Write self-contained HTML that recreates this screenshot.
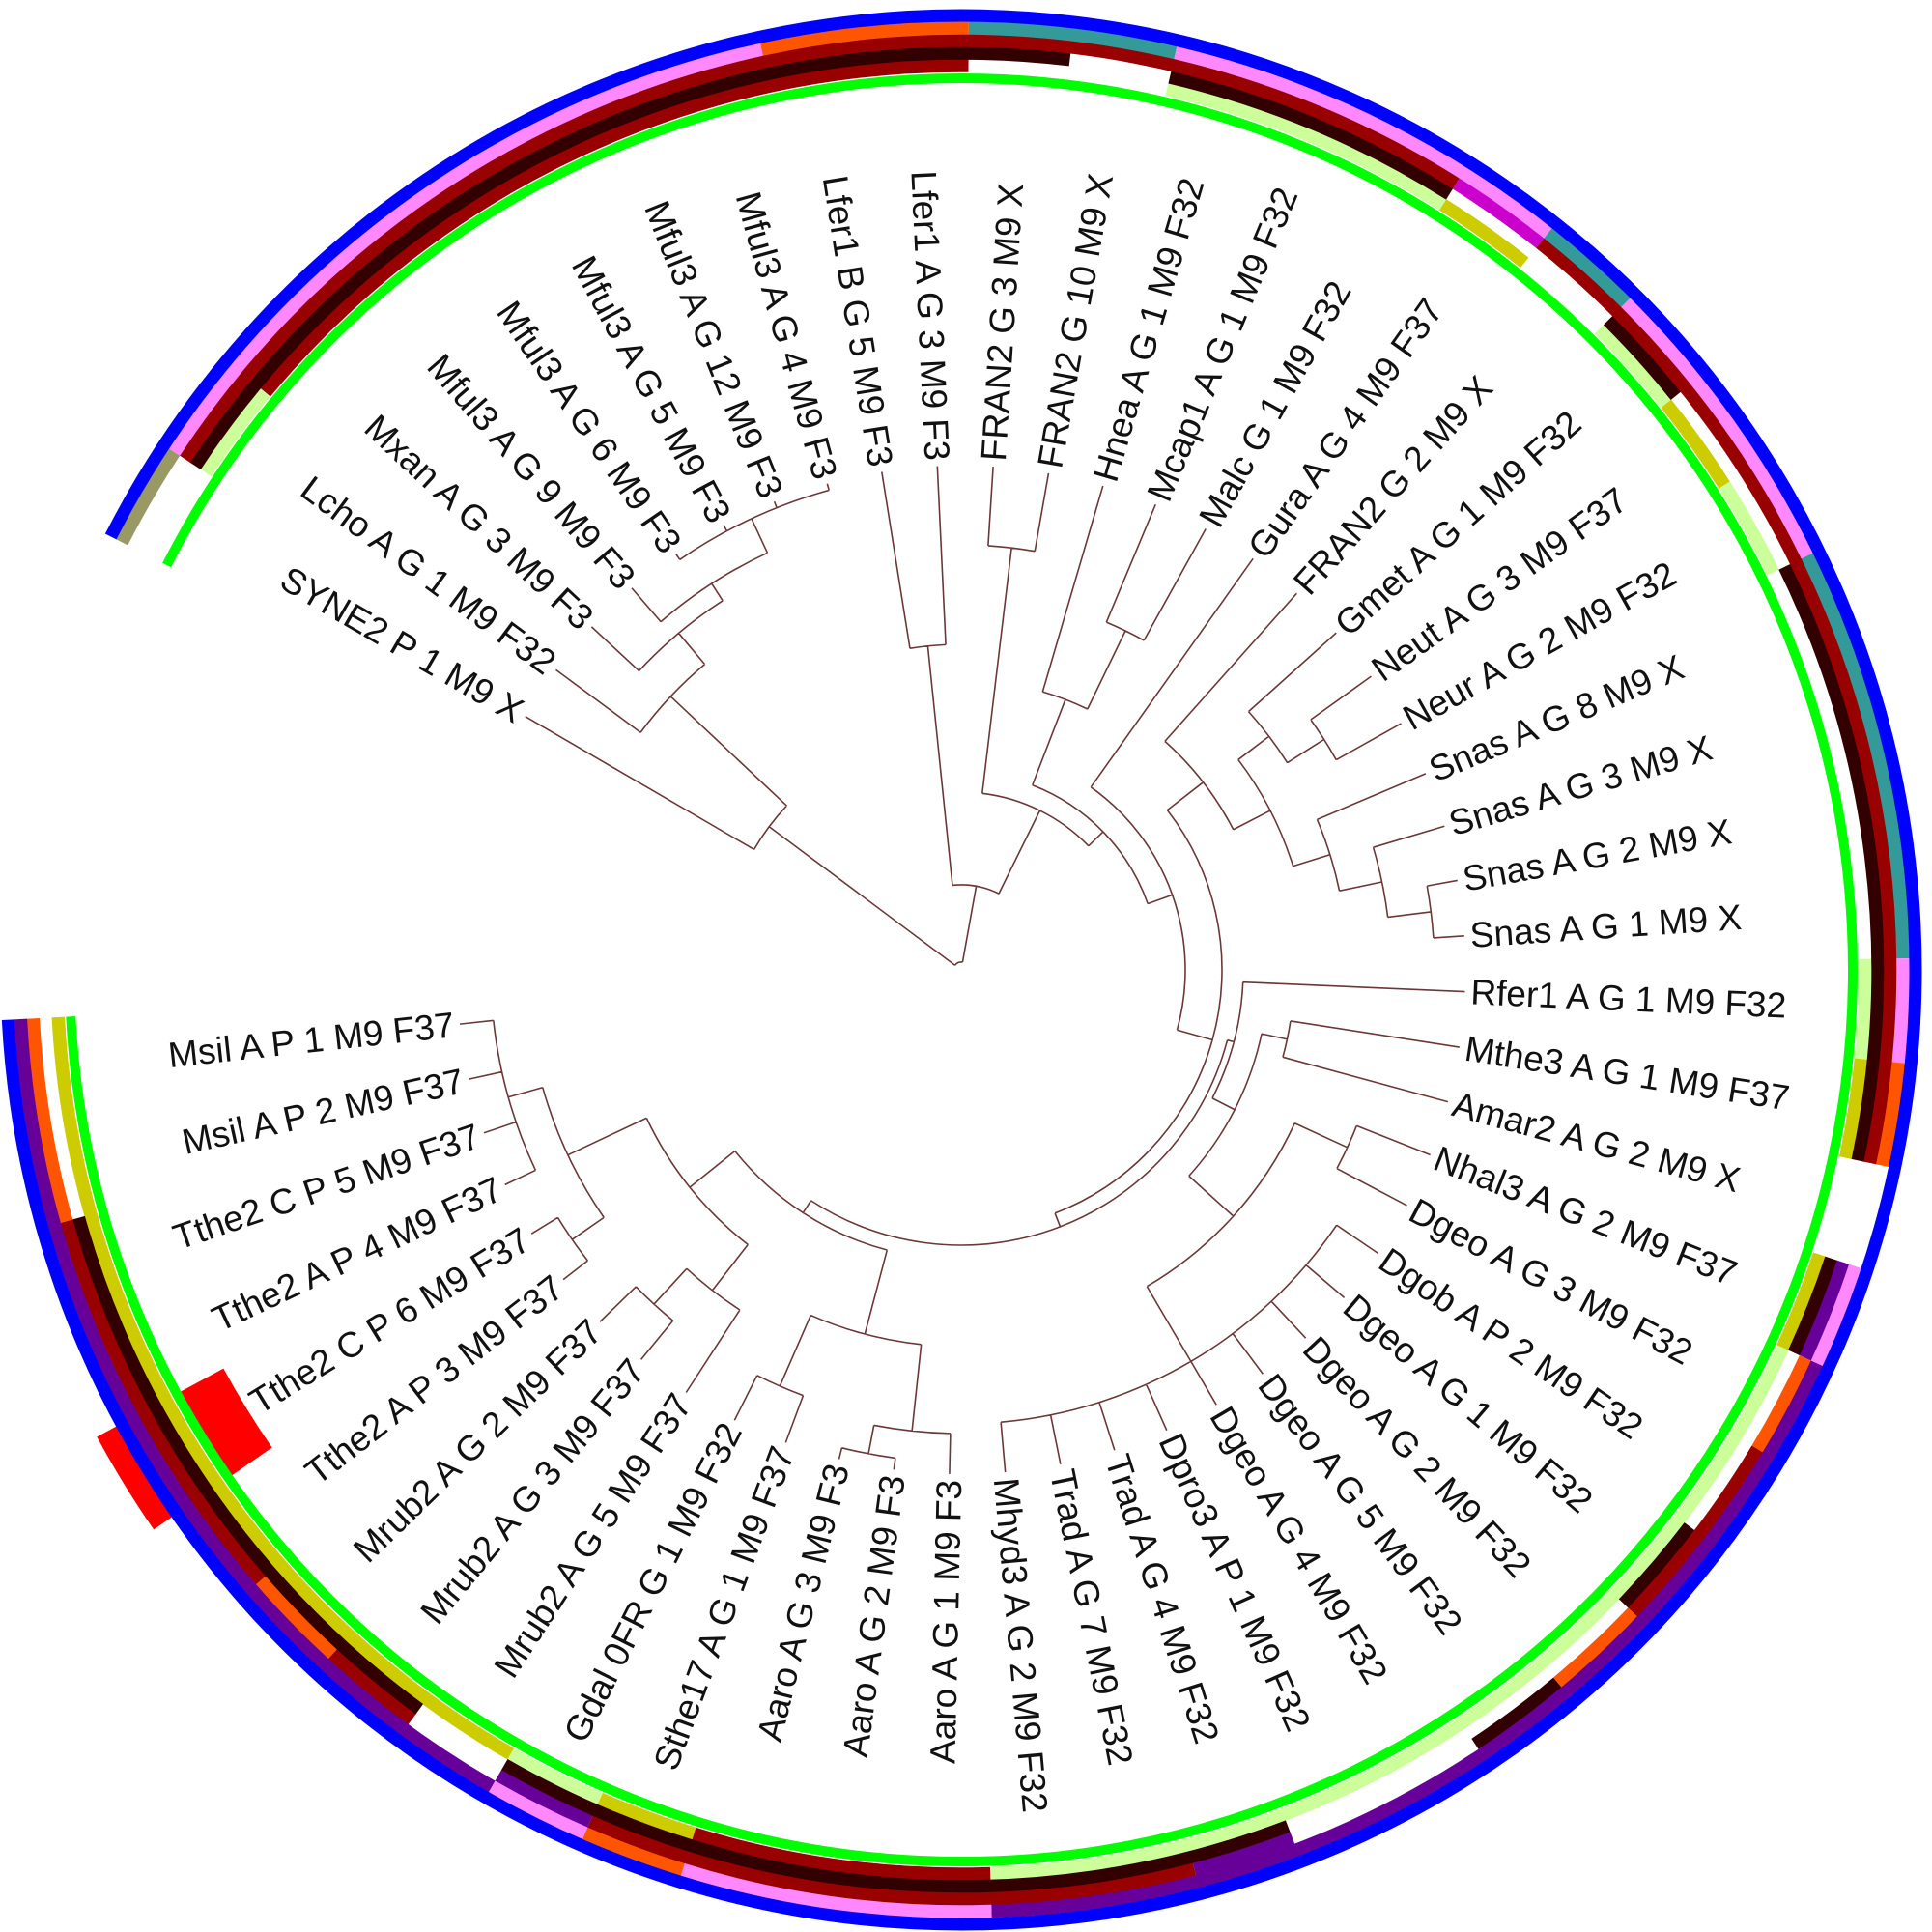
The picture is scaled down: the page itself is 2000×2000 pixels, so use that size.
<!DOCTYPE html>
<html><head><meta charset="utf-8">
<style>
html,body{margin:0;padding:0;background:#fff;}
svg{display:block;}
text{font-family:"Liberation Sans",Arial,sans-serif;font-size:37px;fill:#111;dominant-baseline:central;}
</style></head>
<body>
<svg id="s" width="2000" height="2000" viewBox="0 0 2000 2000" xmlns="http://www.w3.org/2000/svg">
<g id="rings"></g>
<g id="tree" fill="none" stroke="#6b3838" stroke-width="1.6"></g>
<g id="labels">
<text transform="rotate(30.17 995 1004)" x="467" y="1004" text-anchor="end">SYNE2 P 1 M9 X</text>
<text transform="rotate(36.52 995 1004)" x="467" y="1004" text-anchor="end">Lcho A G 1 M9 F32</text>
<text transform="rotate(42.87 995 1004)" x="467" y="1004" text-anchor="end">Mxan A G 3 M9 F3</text>
<text transform="rotate(49.21 995 1004)" x="467" y="1004" text-anchor="end">Mful3 A G 9 M9 F3</text>
<text transform="rotate(55.56 995 1004)" x="467" y="1004" text-anchor="end">Mful3 A G 6 M9 F3</text>
<text transform="rotate(61.90 995 1004)" x="467" y="1004" text-anchor="end">Mful3 A G 5 M9 F3</text>
<text transform="rotate(68.25 995 1004)" x="467" y="1004" text-anchor="end">Mful3 A G 12 M9 F3</text>
<text transform="rotate(74.60 995 1004)" x="467" y="1004" text-anchor="end">Mful3 A G 4 M9 F3</text>
<text transform="rotate(80.94 995 1004)" x="467" y="1004" text-anchor="end">Lfer1 B G 5 M9 F3</text>
<text transform="rotate(87.29 995 1004)" x="467" y="1004" text-anchor="end">Lfer1 A G 3 M9 F3</text>
<text transform="rotate(273.63 995 1004)" x="1523" y="1004">FRAN2 G 3 M9 X</text>
<text transform="rotate(279.98 995 1004)" x="1523" y="1004">FRAN2 G 10 M9 X</text>
<text transform="rotate(286.33 995 1004)" x="1523" y="1004">Hnea A G 1 M9 F32</text>
<text transform="rotate(292.67 995 1004)" x="1523" y="1004">Mcap1 A G 1 M9 F32</text>
<text transform="rotate(299.02 995 1004)" x="1523" y="1004">Malc G 1 M9 F32</text>
<text transform="rotate(305.37 995 1004)" x="1523" y="1004">Gura A G 4 M9 F37</text>
<text transform="rotate(311.71 995 1004)" x="1523" y="1004">FRAN2 G 2 M9 X</text>
<text transform="rotate(318.06 995 1004)" x="1523" y="1004">Gmet A G 1 M9 F32</text>
<text transform="rotate(324.40 995 1004)" x="1523" y="1004">Neut A G 3 M9 F37</text>
<text transform="rotate(330.75 995 1004)" x="1523" y="1004">Neur A G 2 M9 F32</text>
<text transform="rotate(337.10 995 1004)" x="1523" y="1004">Snas A G 8 M9 X</text>
<text transform="rotate(343.44 995 1004)" x="1523" y="1004">Snas A G 3 M9 X</text>
<text transform="rotate(349.79 995 1004)" x="1523" y="1004">Snas A G 2 M9 X</text>
<text transform="rotate(356.13 995 1004)" x="1523" y="1004">Snas A G 1 M9 X</text>
<text transform="rotate(2.48 995 1004)" x="1523" y="1004">Rfer1 A G 1 M9 F32</text>
<text transform="rotate(8.83 995 1004)" x="1523" y="1004">Mthe3 A G 1 M9 F37</text>
<text transform="rotate(15.17 995 1004)" x="1523" y="1004">Amar2 A G 2 M9 X</text>
<text transform="rotate(21.52 995 1004)" x="1523" y="1004">Nhal3 A G 2 M9 F37</text>
<text transform="rotate(27.87 995 1004)" x="1523" y="1004">Dgeo A G 3 M9 F32</text>
<text transform="rotate(34.21 995 1004)" x="1523" y="1004">Dgob A P 2 M9 F32</text>
<text transform="rotate(40.56 995 1004)" x="1523" y="1004">Dgeo A G 1 M9 F32</text>
<text transform="rotate(46.90 995 1004)" x="1523" y="1004">Dgeo A G 2 M9 F32</text>
<text transform="rotate(53.25 995 1004)" x="1523" y="1004">Dgeo A G 5 M9 F32</text>
<text transform="rotate(59.60 995 1004)" x="1523" y="1004">Dgeo A G 4 M9 F32</text>
<text transform="rotate(65.94 995 1004)" x="1523" y="1004">Dpro3 A P 1 M9 F32</text>
<text transform="rotate(72.29 995 1004)" x="1523" y="1004">Trad A G 4 M9 F32</text>
<text transform="rotate(78.63 995 1004)" x="1523" y="1004">Trad A G 7 M9 F32</text>
<text transform="rotate(84.98 995 1004)" x="1523" y="1004">Mhyd3 A G 2 M9 F32</text>
<text transform="rotate(-88.67 995 1004)" x="467" y="1004" text-anchor="end">Aaro A G 1 M9 F3</text>
<text transform="rotate(-82.33 995 1004)" x="467" y="1004" text-anchor="end">Aaro A G 2 M9 F3</text>
<text transform="rotate(-75.98 995 1004)" x="467" y="1004" text-anchor="end">Aaro A G 3 M9 F3</text>
<text transform="rotate(-69.63 995 1004)" x="467" y="1004" text-anchor="end">Sthe17 A G 1 M9 F37</text>
<text transform="rotate(-63.29 995 1004)" x="467" y="1004" text-anchor="end">Gdal 0FR G 1 M9 F32</text>
<text transform="rotate(-56.94 995 1004)" x="467" y="1004" text-anchor="end">Mrub2 A G 5 M9 F37</text>
<text transform="rotate(-50.60 995 1004)" x="467" y="1004" text-anchor="end">Mrub2 A G 3 M9 F37</text>
<text transform="rotate(-44.25 995 1004)" x="467" y="1004" text-anchor="end">Mrub2 A G 2 M9 F37</text>
<text transform="rotate(-37.90 995 1004)" x="467" y="1004" text-anchor="end">Tthe2 A P 3 M9 F37</text>
<text transform="rotate(-31.56 995 1004)" x="467" y="1004" text-anchor="end">Tthe2 C P 6 M9 F37</text>
<text transform="rotate(-25.21 995 1004)" x="467" y="1004" text-anchor="end">Tthe2 A P 4 M9 F37</text>
<text transform="rotate(-18.87 995 1004)" x="467" y="1004" text-anchor="end">Tthe2 C P 5 M9 F37</text>
<text transform="rotate(-12.52 995 1004)" x="467" y="1004" text-anchor="end">Msil A P 2 M9 F37</text>
<text transform="rotate(-6.17 995 1004)" x="467" y="1004" text-anchor="end">Msil A P 1 M9 F37</text>
</g>
</svg>
<script>
(function(){
var cx=995, cy=1004, A0=207, STEP=330/52, TIP=522;
var NS="http://www.w3.org/2000/svg";
function pt(r,a){var t=a*Math.PI/180;return (cx+r*Math.cos(t)).toFixed(2)+","+(cy+r*Math.sin(t)).toFixed(2);}
function arc(r,a1,a2){var l=(a2-a1)>180?1:0;return "M"+pt(r,a1)+" A"+r+" "+r+" 0 "+l+" 1 "+pt(r,a2);}
function P(g,d,stroke,w){var p=document.createElementNS(NS,"path");p.setAttribute("d",d);p.setAttribute("fill","none");if(stroke){p.setAttribute("stroke",stroke);p.setAttribute("stroke-width",w);p.setAttribute("stroke-linecap","butt");}g.appendChild(p);}
var rings=document.getElementById("rings");
var C={g:"#ccff99",y:"#cccc00",m:"#990000",d:"#330000",p:"#ff88ff",o:"#ff5500",t:"#339999",u:"#660099",k:"#999966",c:"#cc00cc",w:null};
function expand(spec){var out=[];spec.split(" ").forEach(function(tok){var m=tok.match(/^(\d+)(\w)$/);for(var i=0;i<+m[1];i++)out.push(m[2]);});return out;}
var R1=expand("1w 1g 8m 2w 3g 1y 1w 1g 1y 1g 4w 1g 1y 1w 1y 10g 3m 1y 1g 9y");
var R2=expand("1w 10d 1w 3d 2w 1d 2w 6d 1w 1d 2w 1d 4w 8d 1w 6d 2w");
var R3=expand("1w 14m 1c 10m 1w 1u 1o 2m 1o 1d 2w 1u 6m 1u 1w 1m 1o 4m 2o");
var R4=expand("1k 7p 2o 2t 4p 1t 3p 4t 1p 1o 1w 1p 10u 3p 1o 1p 9u");
function b(i){return A0+i*STEP;}
// inner red block (under green)
P(rings,arc(895,b(47),b(48)),"#ff0000",54);
// outer red block (under blue)
P(rings,arc(1000,b(47),b(48)),"#ff0000",34);
P(rings,arc(923,A0,A0+330),"#00ff00",10);
function ring(arr,r){var i=0;while(i<52){var j=i;while(j+1<52&&arr[j+1]===arr[i])j++;if(C[arr[i]])P(rings,arc(r,b(i),b(j+1)),C[arr[i]],13.5);i=j+1;}}
ring(R1,936);ring(R2,949);ring(R3,962);ring(R4,975);
P(rings,arc(988,A0,A0+330),"#0000ff",13);
// tree
function n(r,c){return {r:r,c:c};}
var T=n(8,[ n(248,[1,n(413,[2,n(455,[3,n(476,[4,n(515,[5,6,7,8])])])])]),
 n(88,[ n(337,[9,10]), n(184,[ n(440,[11,12]), n(205,[ n(300,[13,n(390,[14,15])]),
  n(232,[16, n(270,[ n(317,[17, n(360,[ n(400,[18,n(445,[19,20])]), n(400,[21,n(445,[22,n(490,[23,24])])]) ])]),
   n(285,[ n(292,[25, n(318,[ n(345,[26,27]), n(380,[ n(440,[28,29]), n(470,[30,31,32,33,34,35,36,37,38]) ]) ])]),
    n(300,[ n(390,[ n(480,[39,n(510,[40,41])]), n(470,[42,43]) ]),
            n(360,[ n(420,[44,n(470,[45,46])]), n(450,[ n(490,[47,48]), n(487,[49,50,51,52]) ]) ]) ]) ]) ]) ]) ]) ]) ]) ]);
var tree=document.getElementById("tree");var d="";
function ang(x){if(typeof x==="number")return A0+(x-0.5)*STEP;var s=0;x.c.forEach(function(c){s+=ang(c);});x.a=s/x.c.length;return x.a;}
ang(T);
function draw(x){var as=x.c.map(function(c){return typeof c==="number"?A0+(c-0.5)*STEP:c.a;});
 var mn=Math.min.apply(null,as),mx=Math.max.apply(null,as);d+=arc(x.r,mn,mx)+" ";
 x.c.forEach(function(c,k){var rr=typeof c==="number"?TIP:c.r;d+="M"+pt(x.r,as[k])+" L"+pt(rr,as[k])+" ";if(typeof c!=="number")draw(c);});}
draw(T);
P(tree,d,"#6b3838",1.6);
})();
</script>
</body></html>
